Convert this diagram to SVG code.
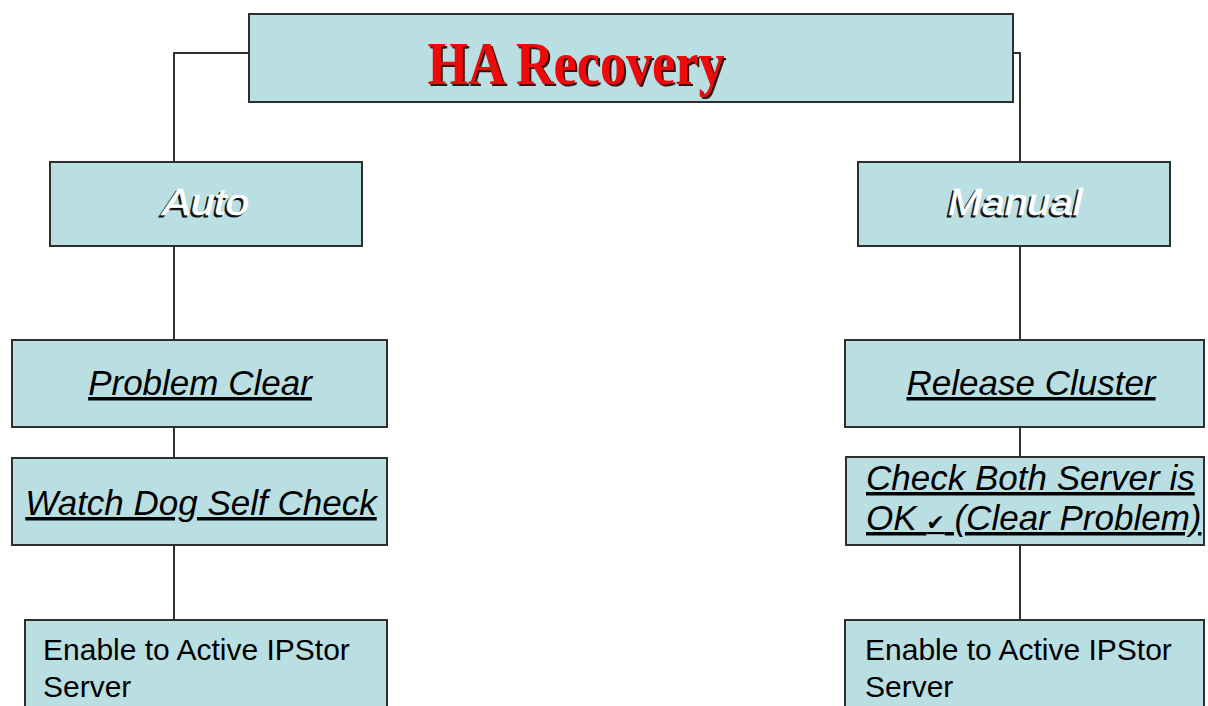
<svg xmlns="http://www.w3.org/2000/svg" width="1208" height="706" viewBox="0 0 1208 706">
<style>
.box{fill:#b9dfe3;stroke:#2f2f2f;stroke-width:2}
.con{fill:none;stroke:#2f2f2f;stroke-width:2}
.it{font-family:"Liberation Sans",Arial,sans-serif;font-style:italic;font-size:35px;fill:#000;text-decoration:underline}
.pl{font-family:"Liberation Sans",Arial,sans-serif;font-size:30px;fill:#000}
.sh{font-family:"Liberation Sans",Arial,sans-serif;font-style:italic;font-size:37px}
.shd{fill:#111;stroke:#111;stroke-width:1}
.shf{fill:#ffffff;stroke:#ffffff;stroke-width:0.6}
.title{font-family:"Liberation Serif","Times New Roman",serif;font-weight:bold;font-size:62px}
</style>
<rect width="1208" height="706" fill="#ffffff"/>
<g id="connectors">
<path class="con" d="M249,53 H174 V162"/>
<path class="con" d="M1013,53 H1020 V162"/>
<path class="con" d="M174,246 V340"/>
<path class="con" d="M174,427 V458"/>
<path class="con" d="M174,545 V620"/>
<path class="con" d="M1020,246 V340"/>
<path class="con" d="M1020,427 V457"/>
<path class="con" d="M1020,545 V620"/>
</g>
<g id="ha-recovery">
<rect class="box" x="249" y="14" width="764" height="88"/>
<text class="title" x="578" y="86" text-anchor="middle" textLength="297" lengthAdjust="spacingAndGlyphs" fill="#3a1010">HA Recovery</text>
<text class="title" x="576" y="84" text-anchor="middle" textLength="297" lengthAdjust="spacingAndGlyphs" fill="#ee0a0a">HA Recovery</text>
</g>
<g id="auto">
<rect class="box" x="50" y="162" width="312" height="84"/>
<text class="sh shd" x="204" y="217" text-anchor="middle" textLength="86" lengthAdjust="spacingAndGlyphs">Auto</text>
<text class="sh shf" x="206" y="215" text-anchor="middle" textLength="86" lengthAdjust="spacingAndGlyphs">Auto</text>
</g>
<g id="manual">
<rect class="box" x="858" y="162" width="312" height="84"/>
<text class="sh shd" x="1013" y="217" text-anchor="middle" textLength="134" lengthAdjust="spacingAndGlyphs">Manual</text>
<text class="sh shf" x="1015" y="215" text-anchor="middle" textLength="134" lengthAdjust="spacingAndGlyphs">Manual</text>
</g>
<g id="problem-clear">
<rect class="box" x="12" y="340" width="375" height="87"/>
<text class="it" x="200" y="395" text-anchor="middle">Problem Clear</text>
</g>
<g id="watch-dog">
<rect class="box" x="12" y="458" width="375" height="87"/>
<text class="it" x="201" y="515" text-anchor="middle">Watch Dog Self Check</text>
</g>
<g id="enable-left">
<rect class="box" x="25" y="620" width="362" height="100"/>
<text class="pl" x="43" y="660">Enable to Active IPStor</text>
<text class="pl" x="43" y="697">Server</text>
</g>
<g id="release-cluster">
<rect class="box" x="845" y="340" width="359" height="87"/>
<text class="it" x="1031" y="395" text-anchor="middle">Release Cluster</text>
</g>
<g id="check-both">
<rect class="box" x="846" y="457" width="358" height="88"/>
<text class="it" x="866" y="490">Check Both Server is</text>
<text class="it" x="866" y="530">OK <tspan font-style="normal" font-size="22" font-family="'DejaVu Sans',sans-serif">✔</tspan>  (Clear Problem)</text>
</g>
<g id="enable-right">
<rect class="box" x="845" y="620" width="359" height="100"/>
<text class="pl" x="865" y="660">Enable to Active IPStor</text>
<text class="pl" x="865" y="697">Server</text>
</g>
</svg>
